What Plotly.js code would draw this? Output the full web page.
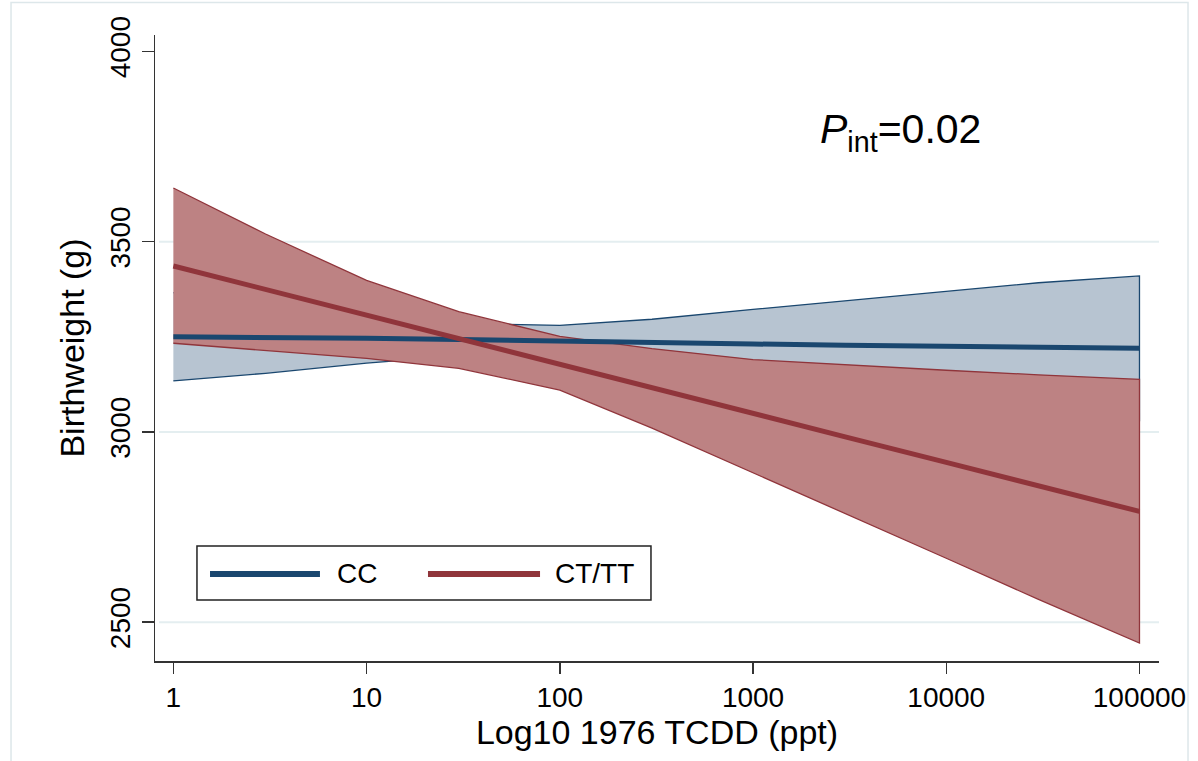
<!DOCTYPE html>
<html><head><meta charset="utf-8">
<script src="https://cdn.plot.ly/plotly-3.0.1.min.js"></script>
<style>html,body{margin:0;padding:0;background:#fff}#chart{width:1198px;height:761px}</style>
</head><body><div id="chart"></div>
<script>
// Dose (1976 TCDD, ppt) at which the fitted curves were read
const tcdd = [1, 3, 10, 30, 100, 300, 1000, 3000, 10000, 30000, 100000];

// CC genotype: predicted birthweight and 95% CI (g)
const ccMean  = [3250, 3249, 3246, 3243, 3240, 3236, 3231, 3228, 3225, 3222, 3220];
const ccUpper = [3366, 3330, 3305, 3285, 3280, 3296, 3322, 3345, 3370, 3392, 3410];
const ccLower = [3134, 3154, 3181, 3200, 3200, 3177, 3140, 3111, 3080, 3052, 3030];

// CT/TT genotype: predicted birthweight and 95% CI (g)
const ctMean  = [3436, 3374, 3307, 3245, 3178, 3116, 3049, 2987, 2920, 2858, 2791];
const ctUpper = [3641, 3520, 3398, 3316, 3251, 3219, 3190, 3176, 3162, 3150, 3138];
const ctLower = [3233, 3214, 3193, 3167, 3110, 3010, 2892, 2785, 2668, 2560, 2445];

const seriesNames = ["CC", "CT/TT"];
const xTickVals = [1, 10, 100, 1000, 10000, 100000];
const xTickText = ["1", "10", "100", "1000", "10000", "100000"];
const yTickVals = [2500, 3000, 3500, 4000];
const yTickText = ["2500", "3000", "3500", "4000"];
const gridVals = [2500, 3000, 3500];

const BLUE = "#1a476f", RED = "#90353b";
const BLUE_FILL = "rgb(183,196,209)", RED_FILL = "rgb(189,130,131)";
const FONT = "Liberation Sans, Arial, Helvetica, sans-serif";

function band(xs, up, lo, lineColor, fillColor) {
  return {
    x: xs.concat(xs.slice().reverse()),
    y: up.concat(lo.slice().reverse()),
    type: "scatter", mode: "lines", fill: "toself",
    fillcolor: fillColor, line: {color: lineColor, width: 1.3},
    showlegend: false, hoverinfo: "skip"
  };
}
function meanLine(xs, ys, color, name) {
  return {x: xs, y: ys, type: "scatter", mode: "lines", name: name,
    line: {color: color, width: 5}, showlegend: false};
}

const data = [
  band(tcdd, ccUpper, ccLower, BLUE, BLUE_FILL),
  band(tcdd, ctUpper, ctLower, RED, RED_FILL),
  meanLine(tcdd, ccMean, BLUE, seriesNames[0]),
  meanLine(tcdd, ctMean, RED, seriesNames[1])
];

const shapes = gridVals.map(v => ({
  type: "line", xref: "paper", x0: 0.004, x1: 1, yref: "y", y0: v, y1: v,
  line: {color: "#e4eef0", width: 2}, layer: "below"
}));
// outer frame of the graph region
shapes.push({type: "rect", xref: "paper", yref: "paper",
  x0: -0.1434, x1: 1.0289, y0: -0.2, y1: 1.052,
  line: {color: "#dde7ea", width: 1.5}, layer: "below"});
// legend box and keys
shapes.push({type: "rect", xref: "paper", yref: "paper",
  x0: 0.0418, x1: 0.494, y0: 0.0974, y1: 0.1837,
  line: {color: "#222", width: 1.5}, fillcolor: "#fff", layer: "above"});
shapes.push({type: "line", xref: "paper", yref: "paper",
  x0: 0.0548, x1: 0.1643, y0: 0.139, y1: 0.139, line: {color: BLUE, width: 6}});
shapes.push({type: "line", xref: "paper", yref: "paper",
  x0: 0.2719, x1: 0.3835, y0: 0.139, y1: 0.139, line: {color: RED, width: 6}});

const annotations = [
  {xref: "paper", yref: "paper", x: 0.1793, y: 0.139, xanchor: "left", yanchor: "middle",
   text: seriesNames[0], showarrow: false, font: {family: FONT, size: 28, color: "#000"}},
  {xref: "paper", yref: "paper", x: 0.3964, y: 0.139, xanchor: "left", yanchor: "middle",
   text: seriesNames[1], showarrow: false, font: {family: FONT, size: 28, color: "#000"}},
  {xref: "paper", yref: "paper", x: 0.6604, y: 0.845, xanchor: "left", yanchor: "middle",
   text: "<i>P</i><sub>int</sub>=0.02", showarrow: false,
   font: {family: FONT, size: 41, color: "#000"}}
];

const layout = {
  width: 1198, height: 761,
  margin: {l: 155, r: 39, t: 35, b: 100, pad: 0},
  paper_bgcolor: "#fff", plot_bgcolor: "#fff",
  font: {family: FONT, color: "#000"},
  showlegend: false,
  xaxis: {
    type: "log", range: [-0.095, 5.101],
    tickvals: xTickVals, ticktext: xTickText,
    ticks: "outside", ticklen: 11, tickwidth: 1.5, tickcolor: "#333",
    showline: true, linecolor: "#333", linewidth: 1.5,
    showgrid: false, zeroline: false,
    tickfont: {family: FONT, size: 28, color: "#000"},
    title: {text: "Log10 1976 TCDD (ppt)", font: {family: FONT, size: 34, color: "#000"}, standoff: 4},
    automargin: false
  },
  yaxis: {
    range: [2398, 4043],
    tickvals: yTickVals, ticktext: yTickText, tickangle: -90,
    ticks: "outside", ticklen: 12, tickwidth: 1.5, tickcolor: "#333",
    showline: true, linecolor: "#333", linewidth: 1.5,
    showgrid: false, zeroline: false,
    tickfont: {family: FONT, size: 28, color: "#000"},
    title: {text: "Birthweight (g)", font: {family: FONT, size: 34, color: "#000"}, standoff: 10},
    automargin: false
  },
  shapes: shapes,
  annotations: annotations
};

Plotly.newPlot("chart", data, layout, {displayModeBar: false, staticPlot: true});
</script></body></html>
